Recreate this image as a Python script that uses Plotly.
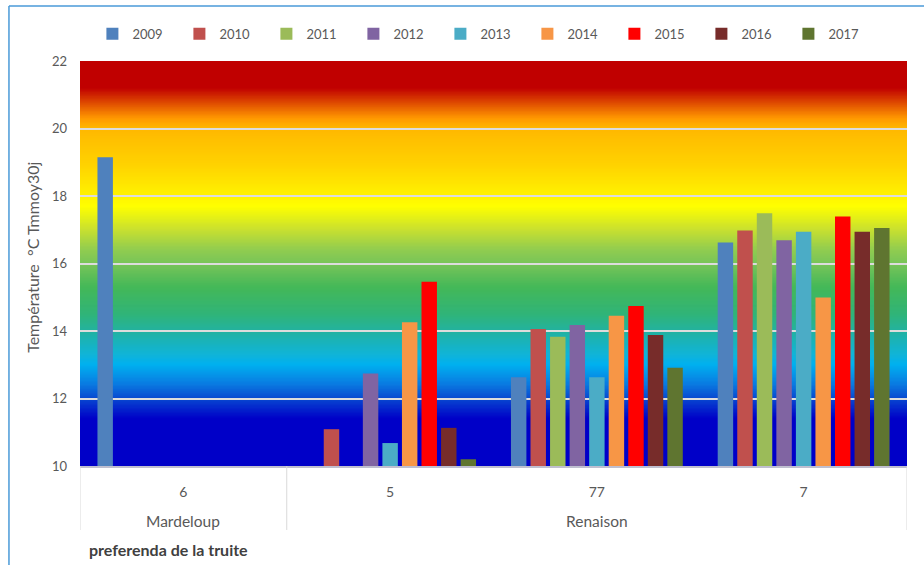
import plotly.graph_objects as go

# Stations (river / station code) and mean 30-day max temperature per year
rivers = ["Mardeloup", "Renaison", "Renaison", "Renaison"]
stations = ["6", "5", "77", "7"]
years = ["2009", "2010", "2011", "2012", "2013", "2014", "2015", "2016", "2017"]

t2009 = [19.15, 9.93, 12.63, 16.62]
t2010 = [None, 11.09, 14.06, 16.98]
t2011 = [None, 9.93, 13.83, 17.49]
t2012 = [None, 12.74, 14.18, 16.69]
t2013 = [None, 10.68, 12.63, 16.94]
t2014 = [None, 14.26, 14.45, 14.99]
t2015 = [None, 15.46, 14.74, 17.39]
t2016 = [None, 11.13, 13.88, 16.94]
t2017 = [None, 10.20, 12.91, 17.05]
series = [t2009, t2010, t2011, t2012, t2013, t2014, t2015, t2016, t2017]

colors = ["#4f81bd", "#c0504d", "#9bbb59", "#8064a2", "#4bacc6",
          "#f79646", "#ff0000", "#772c2a", "#5f7530"]

y_min, y_max = 10, 22
y_ticks = [10, 12, 14, 16, 18, 20, 22]

# Thermal preference background: value -> colour stops
grad_stops = [
    (10.0, "#0000c8"), (11.4, "#0000c8"), (12.0, "#0848d0"), (12.4, "#0a78e0"),
    (13.0, "#00b0f0"), (13.3, "#10b4d8"), (14.0, "#22b2a0"), (14.5, "#30b478"),
    (15.3, "#44b858"), (16.0, "#78c458"), (16.4, "#90cc50"), (17.0, "#c8e030"),
    (17.7, "#ffff00"), (18.3, "#ffe800"), (19.0, "#ffd000"), (20.0, "#ffb800"),
    (20.3, "#ff9900"), (21.2, "#c00000"), (22.0, "#c00000"),
]


def hex_rgb(h):
    h = h.lstrip("#")
    return tuple(int(h[i:i + 2], 16) for i in (0, 2, 4))


def color_at(v):
    for (v0, c0), (v1, c1) in zip(grad_stops[:-1], grad_stops[1:]):
        if v0 <= v <= v1:
            f = 0 if v1 == v0 else (v - v0) / (v1 - v0)
            a, b = hex_rgb(c0), hex_rgb(c1)
            r, g, bl = (round(a[i] + (b[i] - a[i]) * f) for i in range(3))
            return f"rgb({r},{g},{bl})"
    return grad_stops[-1][1]


fig = go.Figure()

for name, vals, col in zip(years, series, colors):
    fig.add_trace(go.Bar(
        name=name,
        x=stations,
        y=[None if v is None else v - y_min for v in vals],
        base=y_min,
        marker=dict(color=col, line=dict(width=0)),
        cliponaxis=False,
    ))

# Gradient bands: each band runs to the top so later bands cover earlier
# ones without seams
shapes = []
step = 0.04
n = int(round((y_max - y_min) / step))
for i in range(n):
    lo = y_min + i * step
    shapes.append(dict(
        type="rect", xref="paper", yref="y", x0=0, x1=1, y0=lo, y1=y_max,
        fillcolor=color_at(lo + step / 2), line=dict(width=0), layer="below",
    ))

# Category group separators below the axis
for xs in [-0.5, 0.5, 3.5]:
    shapes.append(dict(
        type="line", xref="x", yref="paper", x0=xs, x1=xs, y0=0, y1=-0.158,
        line=dict(color="#d9d9d9", width=1),
    ))

# Chart frame
shapes.append(dict(type="line", xref="paper", yref="paper",
                   x0=-0.0859, x1=1.03, y0=1.1358, y1=1.1358,
                   line=dict(color="#4a9ad8", width=1.5)))
shapes.append(dict(type="line", xref="paper", yref="paper",
                   x0=-0.0859, x1=-0.0859, y0=1.1358, y1=-0.3,
                   line=dict(color="#4a9ad8", width=1.5)))

font_main = "Lato, 'Open Sans', sans-serif"

annotations = [
    dict(text="Mardeloup", x=0, xref="x", y=-0.1358, yref="paper",
         xanchor="center", yanchor="middle", showarrow=False,
         font=dict(size=15.5, color="#595959", family=font_main)),
    dict(text="Renaison", x=2, xref="x", y=-0.1358, yref="paper",
         xanchor="center", yanchor="middle", showarrow=False,
         font=dict(size=15.5, color="#595959", family=font_main)),
    dict(text="<b>preferenda de la truite</b>", x=0.0085, xref="paper", y=-0.205,
         yref="paper", xanchor="left", yanchor="middle", showarrow=False,
         font=dict(size=16, color="#404040", family=font_main)),
    dict(text="Température  °C Tmmoy30j", x=-0.0568, xref="paper", y=0.514,
         yref="paper", xanchor="center", yanchor="middle", textangle=-90,
         showarrow=False, font=dict(size=16, color="#595959", family=font_main)),
]

fig.update_layout(
    width=924, height=565,
    margin=dict(l=80, r=17, t=61, b=99),
    paper_bgcolor="white", plot_bgcolor="white",
    barmode="group", bargap=0.149, bargroupgap=0.21,
    font=dict(family=font_main, color="#595959", size=13),
    shapes=shapes,
    annotations=annotations,
    legend=dict(orientation="h", x=0.015, xanchor="left", y=1.067, yanchor="middle",
                entrywidth=42, entrywidthmode="pixels", traceorder="normal",
                font=dict(size=13, color="#595959", family=font_main),
                bgcolor="rgba(0,0,0,0)"),
    showlegend=True,
)

fig.update_xaxes(
    type="category", range=[-0.5, 3.5], showgrid=False,
    showline=True, linecolor="#bfbfd0", linewidth=1.5,
    ticks="", tickfont=dict(size=14, color="#595959"),
    ticklabelstandoff=12,
)
fig.update_yaxes(
    range=[y_min, y_max], tickvals=y_ticks, showgrid=True,
    gridcolor="#dcdcdc", gridwidth=1.5, zeroline=False, showline=False,
    ticks="", ticklabelstandoff=12, tickfont=dict(size=13, color="#595959"),
)

fig.write_html("out.html")
